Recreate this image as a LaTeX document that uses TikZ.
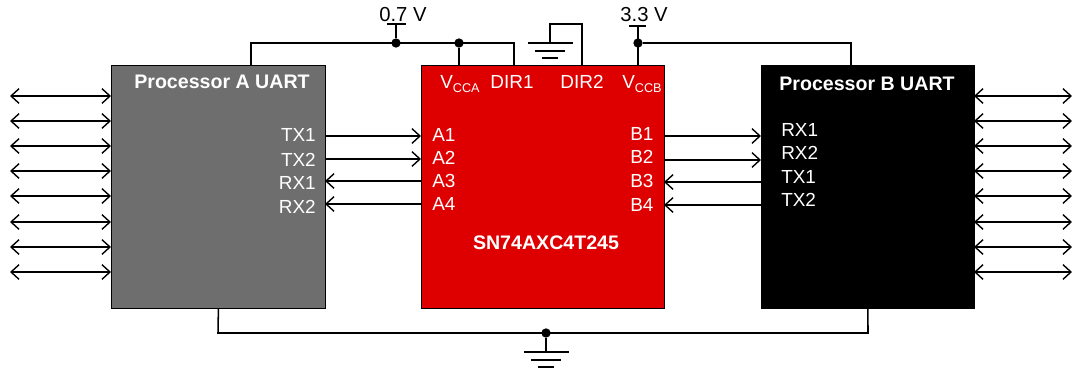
\documentclass[tikz,border=0pt]{standalone}
\usepackage{fontspec}
\setmainfont{Liberation Sans}
\usetikzlibrary{arrows.meta}
\tikzset{
  block/.style={draw=black, line width=0.6pt, anchor=north west, inner sep=0pt, minimum height=182.25pt},
  wire/.style={line width=1.15pt},
  sig/.style={line width=1.15pt, -{Straight Barb[length=6pt, width=11pt, line width=1.05pt]}},
  bisig/.style={line width=1.15pt, {Straight Barb[length=6pt, width=11pt, line width=1.05pt]}-{Straight Barb[length=6pt, width=11pt, line width=1.05pt]}},
  pin/.style={text=white, font=\fontsize{14.2}{16}\selectfont, inner sep=0pt},
  title/.style={text=white, font=\fontsize{14.7}{16}\selectfont\bfseries, inner sep=0pt},
  rail/.style={font=\fontsize{15.2}{17}\selectfont, inner sep=0pt},
  dot/.style={circle, fill=black, inner sep=0pt, minimum size=7pt}
}
\newcommand{\gndbars}[3]{% name, x, y
  \coordinate (#1) at (#2,#3);
  \draw[wire] (#2-22.5,#3) -- (#2+22.5,#3);
  \draw[wire] (#2-15,#3+8) -- (#2+15,#3+8);
  \draw[wire] (#2-8,#3+15) -- (#2+8,#3+15);
}
\begin{document}
\begin{tikzpicture}[x=0.75pt, y=-0.75pt]
    \useasboundingbox (0,0) rectangle (1073,371);
    % the three blocks
    \node[block, fill={rgb,255:red,110;green,110;blue,110}, minimum width=160.5pt] (procA) at (111,65) {};
    \node[block, fill={rgb,255:red,222;green,0;blue,0}, minimum width=182.25pt] (level) at (421,65) {};
    \node[block, fill=black, minimum width=159.75pt] (procB) at (761,65) {};

    \node[title] (titleA) at (222,82) {Processor A UART};
    \node[title] (titleB) at (867,84) {Processor B UART};
    \node[title] (partno) at (546,243) {SN74AXC4T245};

    % free lines at both outer sides
    \foreach \i/\y in {1/96,2/121,3/146,4/171,5/196,6/222,7/247,8/272} {
        \coordinate (la\i) at (10,\y);
        \coordinate (lb\i) at (111,\y);
        \coordinate (ra\i) at (974,\y);
        \coordinate (rb\i) at (1072,\y);
        \draw[bisig] (la\i) -- (lb\i);
        \draw[bisig] (ra\i) -- (rb\i);
    }

    % pin labels
    \foreach \i/\t/\y in {1/TX1/135,2/TX2/160,3/RX1/183,4/RX2/207} {
        \node[pin, anchor=east] (pa\i) at (316,\y) {\t};
    }
    \foreach \i/\y in {1/135,2/158,3/181,4/204} {
        \node[pin, anchor=west] (sa\i) at (432,\y) {A\i};
    }
    \foreach \i/\y in {1/134,2/157,3/181,4/205} {
        \node[pin, anchor=west] (sb\i) at (630,\y) {B\i};
    }
    \foreach \i/\t/\y in {1/RX1/130,2/RX2/153,3/TX1/177,4/TX2/200} {
        \node[pin, anchor=west] (pb\i) at (781,\y) {\t};
    }
    \node[pin] (vcca) at (460,84) {V\raisebox{-2.5pt}{\fontsize{9.5}{10}\selectfont CCA}};
    \node[pin] (dira) at (512,82) {DIR1};
    \node[pin] (dirb) at (582,82) {DIR2};
    \node[pin] (vccb) at (642,84) {V\raisebox{-2.5pt}{\fontsize{9.5}{10}\selectfont CCB}};

    % signals between the blocks
    \foreach \i/\y/\z in {1/136/136,2/159/160} {
        \coordinate (sl\i) at (325,\y);
        \coordinate (sm\i) at (421,\y);
        \coordinate (sn\i) at (664,\z);
        \coordinate (so\i) at (761,\z);
        \draw[sig] (sl\i) -- (sm\i);
        \draw[sig] (sn\i) -- (so\i);
    }
    \foreach \i/\y/\z in {3/181/182,4/204/205} {
        \coordinate (sl\i) at (325,\y);
        \coordinate (sm\i) at (421,\y);
        \coordinate (sn\i) at (664,\z);
        \coordinate (so\i) at (761,\z);
        \draw[sig] (sm\i) -- (sl\i);
        \draw[sig] (so\i) -- (sn\i);
    }

    % 0.7 V rail
    \node[rail] (lowv) at (403,15) {0.7 V};
    \node[dot] (lowa) at (396,43) {};
    \node[dot] (lowb) at (459,43) {};
    \coordinate (lowtop) at (396,24);
    \draw[wire] (251,65) -- (251,43) -- (514,43) -- (514,65);
    \draw[wire] (lowa) -- (lowtop);
    \draw[wire] (387,24) -- (406,24);
    \draw[wire] (lowb) -- (459,65);

    % 3.3 V rail
    \node[rail] (highv) at (644,15) {3.3 V};
    \node[dot] (higha) at (638,43) {};
    \coordinate (hightop) at (638,26);
    \draw[wire] (638,65) -- (hightop);
    \draw[wire] (629,26) -- (646,26);
    \draw[wire] (higha) -- (851,43) -- (851,65);

    % DIR2 to ground
    \gndbars{gnda}{550}{43}
    \draw[wire] (582,65) -- (582,24) -- (550,24) -- (gnda);

    % common ground
    \node[dot] (gndnode) at (546,333) {};
    \gndbars{gndb}{546}{352}
    \draw[wire] (procA.south) -- (218,333) -- (868,333) -- (procB.south);
    \draw[wire] (gndnode) -- (gndb);
  \end{tikzpicture}
\end{document}
